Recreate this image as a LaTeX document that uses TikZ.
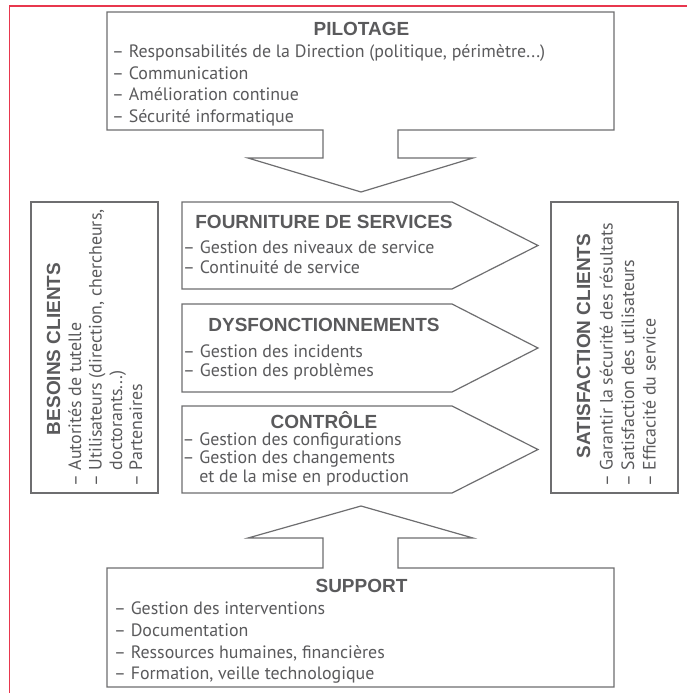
\documentclass[tikz,border=0pt]{standalone}
\usepackage{fontspec}
\setmainfont{PT Sans}
\newfontfamily\titlefont{Liberation Sans}
\definecolor{txtgray}{HTML}{5A5A5C}
\definecolor{linegray}{HTML}{6E6E70}
\definecolor{frame}{HTML}{E8374E}
\tikzset{
  shapeline/.style={draw=linegray, line width=1.2pt, line join=miter},
  ttl/.style={font=\titlefont\bfseries\fontsize{19}{20}\selectfont, text=txtgray, inner sep=0pt, anchor=base},
  itm/.style={font=\fontsize{17.9}{20}\selectfont, text=txtgray, inner sep=0pt, anchor=base west},
}
\begin{document}
\begin{tikzpicture}[x=1pt,y=-1pt]
\useasboundingbox (0,0) rectangle (687,693);
\fill[white] (0,0) rectangle (687,693);
% red frame
\draw[frame, line width=1.5pt] (9.5,693) -- (9.5,6) -- (687,6);

% PILOTAGE block arrow
\draw[shapeline] (107,12) -- (614,12) -- (614,130) -- (398,130) -- (398,158) -- (473,158) -- (361,192) -- (248,158) -- (323,158) -- (323,130) -- (107,130) -- cycle;
\node[ttl] (pilT) at (361.5,36) {PILOTAGE};
\node[itm] (pil1) at (112,57.5) {– Responsabilités de la Direction (politique, périmètre...)};
\node[itm] (pil2) at (112,79) {– Communication};
\node[itm] (pil3) at (112,100.5) {– Amélioration continue};
\node[itm] (pil4) at (112,122) {– Sécurité informatique};

% SUPPORT block arrow
\draw[shapeline] (107,687) -- (614,687) -- (614,568) -- (398,568) -- (398,538) -- (473,538) -- (361,506) -- (248,538) -- (323,538) -- (323,568) -- (107,568) -- cycle;
\node[ttl] (supT) at (361.5,592) {SUPPORT};
\node[itm] (sup1) at (114,614.5) {– Gestion des interventions};
\node[itm] (sup2) at (114,636.5) {– Documentation};
\node[itm] (sup3) at (114,658) {– Ressources humaines, financières};
\node[itm] (sup4) at (114,679) {– Formation, veille technologique};

% Pentagons
\draw[shapeline] (182,202) -- (452,202) -- (538,245.5) -- (452,289) -- (182,289) -- cycle;
\node[ttl] (fouT) at (324,228) {FOURNITURE DE SERVICES};
\node[itm] (fou1) at (183,253.5) {– Gestion des niveaux de service};
\node[itm] (fou2) at (183,273.5) {– Continuité de service};

\draw[shapeline] (182,304) -- (452,304) -- (538,348) -- (452,392) -- (182,392) -- cycle;
\node[ttl] (dysT) at (324,331) {DYSFONCTIONNEMENTS};
\node[itm] (dys1) at (183,357.5) {– Gestion des incidents};
\node[itm] (dys2) at (183,376.5) {– Gestion des problèmes};

\draw[shapeline] (182,406) -- (452,406) -- (538,449.5) -- (452,493) -- (182,493) -- cycle;
\node[ttl] (conT) at (324,428) {CONTRÔLE};
\node[itm] (con1) at (182.5,445) {– Gestion des configurations};
\node[itm] (con2) at (182.5,463.5) {– Gestion des changements};
\node[itm] (con3) at (182.5,482) {\phantom{– }et de la mise en production};

% BESOINS CLIENTS
\draw[shapeline] (31,202) rectangle (158,493);
\node[ttl, rotate=90] (besT) at (60,349) {BESOINS CLIENTS};
\node[itm, rotate=90] (bes1) at (81,487) {– Autorités de tutelle};
\node[itm, rotate=90] (bes2) at (101.5,487) {– Utilisateurs (direction, chercheurs,};
\node[itm, rotate=90] (bes3) at (122,487) {\phantom{– }doctorants...)};
\node[itm, rotate=90] (bes4) at (142,487) {– Partenaires};

% SATISFACTION CLIENTS
\draw[shapeline] (551,202) rectangle (678,493);
\node[ttl, rotate=90] (satT) at (590,346) {SATISFACTION CLIENTS};
\node[itm, rotate=90] (sat1) at (612.5,487) {– Garantir la sécurité des résultats};
\node[itm, rotate=90] (sat2) at (634,487) {– Satisfaction des utilisateurs};
\node[itm, rotate=90] (sat3) at (655.5,487) {– Efficacité du service};
\end{tikzpicture}
\end{document}
